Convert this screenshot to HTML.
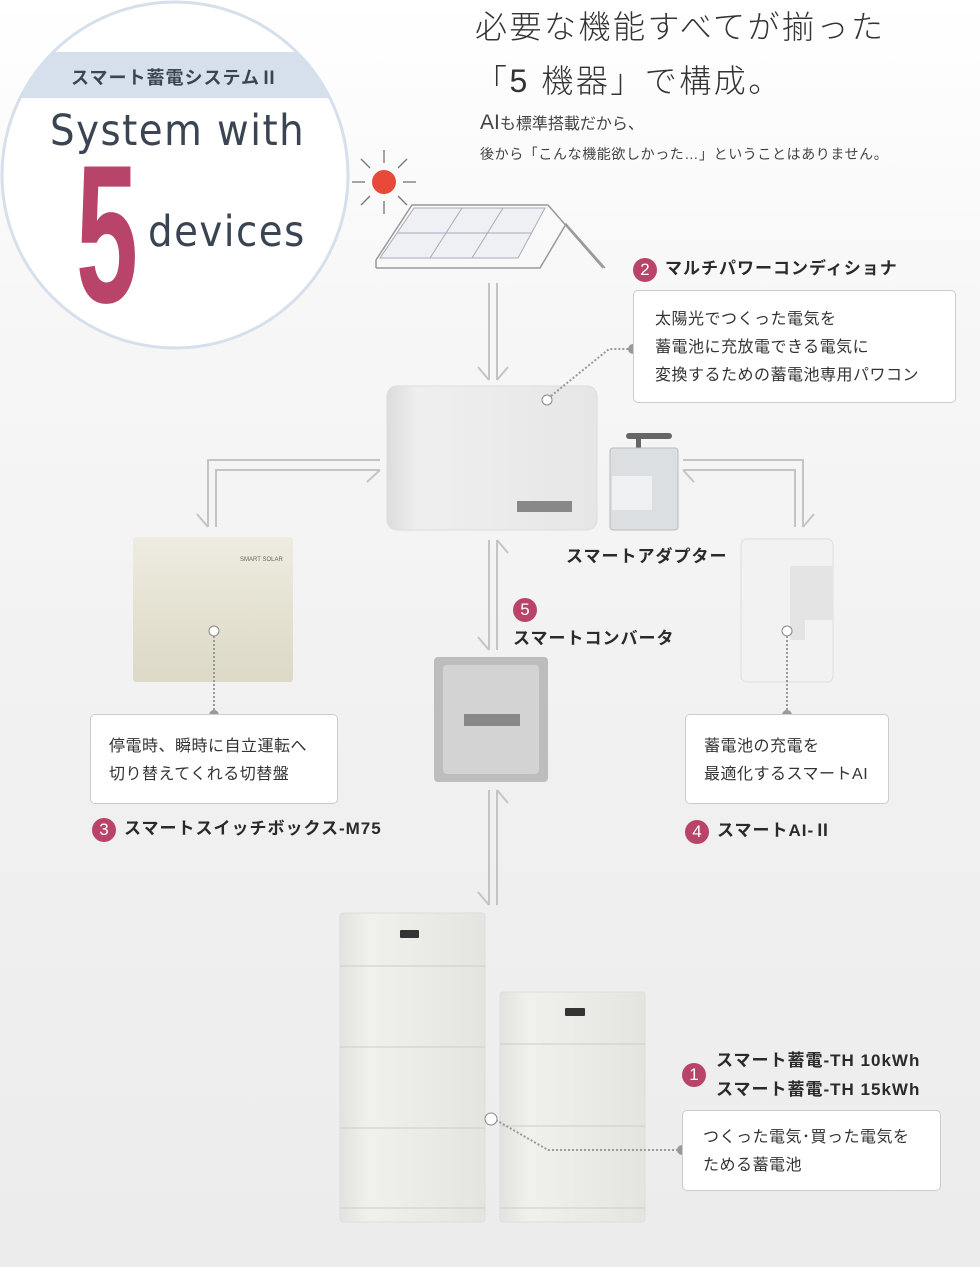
<!DOCTYPE html>
<html><head><meta charset="utf-8"><style>
body{margin:0;width:980px;height:1267px;overflow:hidden;background:linear-gradient(#fff 0,#f7f7f7 300px,#f0f0f0 800px,#ececec 1267px);font-family:"Liberation Sans","Noto Sans CJK JP",sans-serif;color:#333;position:relative}
.a{position:absolute}
.box{position:absolute;background:#fff;border:1px solid #ccc;border-radius:5px;box-sizing:border-box;font-size:16px;line-height:28px;color:#333;letter-spacing:.5px}
.lbl{position:absolute;font-size:17px;font-weight:bold;color:#2a2a2a;white-space:nowrap;letter-spacing:1px}
.num{display:inline-block;width:24px;height:24px;border-radius:50%;background:#b8446a;color:#fff;text-align:center;line-height:24px;font-weight:normal;font-size:17px;margin-right:8px;vertical-align:middle;letter-spacing:0}
</style></head><body>
<svg class="a" style="left:0;top:0" width="980" height="1267">
<defs><clipPath id="cc"><circle cx="175" cy="175" r="172"/></clipPath>
<linearGradient id="dev" x1="0" x2="1"><stop offset="0" stop-color="#dcdcdc"/><stop offset=".15" stop-color="#efefef"/><stop offset="1" stop-color="#e6e6e6"/></linearGradient>
<linearGradient id="bat" x1="0" x2="1"><stop offset="0" stop-color="#e2e2de"/><stop offset=".2" stop-color="#f0f0ec"/><stop offset="1" stop-color="#e4e4e0"/></linearGradient>
<linearGradient id="beige" x1="0" y1="0" x2="0" y2="1"><stop offset="0" stop-color="#eeece2"/><stop offset=".5" stop-color="#e5e2d2"/><stop offset="1" stop-color="#dcd9c8"/></linearGradient>
</defs>
<circle cx="175" cy="175" r="173" fill="#fff" stroke="#d6e0ec" stroke-width="3"/>
<rect x="0" y="52" width="360" height="46" fill="#d6e0ec" clip-path="url(#cc)"/>
<text x="76" y="302" font-size="197" font-weight="bold" fill="#b8446a" textLength="62" lengthAdjust="spacingAndGlyphs" font-family="Liberation Sans Narrow, Liberation Sans, sans-serif">5</text>
<circle cx="384" cy="182" r="12" fill="#e84a3a"/>
<g stroke="#777" stroke-width="1.3">
<line x1="384" y1="150" x2="384" y2="163"/><line x1="384" y1="201" x2="384" y2="214"/>
<line x1="352" y1="182" x2="365" y2="182"/><line x1="403" y1="182" x2="416" y2="182"/>
<line x1="361" y1="159" x2="370" y2="168"/><line x1="398" y1="196" x2="407" y2="205"/>
<line x1="407" y1="159" x2="398" y2="168"/><line x1="370" y1="196" x2="361" y2="205"/></g>
<g stroke="#999" stroke-width="1.5" fill="none">
<polyline points="376,260 412,205 548,205 603,268"/><polyline points="376,268 540,268 566,224 605,268"/>
<line x1="376" y1="260" x2="376" y2="268"/></g>
<polygon points="380,258 414,208 545,208 518,258" fill="#eef0f4" stroke="#aab" stroke-width="1"/>
<g stroke="#aab" fill="none"><line x1="397" y1="233" x2="531" y2="233"/><line x1="462" y1="208" x2="430" y2="258"/><line x1="503" y1="208" x2="472" y2="258"/></g>
<g stroke="#c4c4c4" stroke-width="2" fill="none">
<line x1="489" y1="283" x2="489" y2="380"/><line x1="497" y1="283" x2="497" y2="380"/><polyline points="478,367 489,380"/><polyline points="508,367 497,380"/>
<line x1="489" y1="540" x2="489" y2="650"/><line x1="497" y1="540" x2="497" y2="650"/><polyline points="508,553 497,540"/><polyline points="478,637 489,650"/>
<line x1="489" y1="790" x2="489" y2="905"/><line x1="497" y1="790" x2="497" y2="905"/><polyline points="508,803 497,790"/><polyline points="478,892 489,905"/>
<polyline points="380,460 208,460 208,527"/><polyline points="380,470 216,470 216,527"/><polyline points="197,514 208,527"/><polyline points="367,482 380,470"/>
<polyline points="683,460 803,460 803,527"/><polyline points="683,470 795,470 795,527"/><polyline points="814,514 803,527"/><polyline points="694,482 683,470"/>
</g>
<rect x="387" y="386" width="210" height="144" rx="10" fill="url(#dev)" stroke="#ddd"/>
<rect x="517" y="501" width="55" height="11" fill="#888"/>
<circle cx="547" cy="400" r="5" fill="#fff" stroke="#888"/>
<rect x="636" y="433" width="5" height="25" fill="#666"/><rect x="626" y="433" width="46" height="6" rx="3" fill="#666"/>
<rect x="610" y="448" width="68" height="82" rx="3" fill="#dcdfe2" stroke="#bbb"/>
<rect x="612" y="476" width="40" height="34" fill="#eef0f2"/>
<rect x="133" y="537" width="160" height="145" rx="3" fill="url(#beige)"/>
<text x="240" y="561" font-size="6" fill="#666">SMART SOLAR</text>
<circle cx="214" cy="631" r="5" fill="#fff" stroke="#888"/>
<rect x="741" y="539" width="92" height="143" rx="6" fill="#f2f2f2" stroke="#ddd"/>
<path d="M790 566 H833 V620 H805 V640 H790 Z" fill="#e4e4e4"/>
<circle cx="787" cy="631" r="5" fill="#fff" stroke="#888"/>
<rect x="434" y="657" width="114" height="125" rx="4" fill="#bdbdbd"/>
<rect x="443" y="665" width="96" height="109" rx="4" fill="#d3d3d3"/>
<rect x="464" y="714" width="56" height="12" fill="#888"/>
<rect x="340" y="913" width="145" height="309" rx="3" fill="url(#bat)" stroke="#ddd"/>
<g stroke="#ccc"><line x1="340" y1="966" x2="485" y2="966"/><line x1="340" y1="1047" x2="485" y2="1047"/><line x1="340" y1="1128" x2="485" y2="1128"/><line x1="340" y1="1208" x2="485" y2="1208"/></g>
<rect x="400" y="930" width="19" height="8" rx="1" fill="#333"/>
<rect x="500" y="992" width="145" height="230" rx="3" fill="url(#bat)" stroke="#ddd"/>
<g stroke="#ccc"><line x1="500" y1="1044" x2="645" y2="1044"/><line x1="500" y1="1126" x2="645" y2="1126"/><line x1="500" y1="1208" x2="645" y2="1208"/></g>
<rect x="565" y="1008" width="20" height="8" rx="1" fill="#333"/>
<g stroke="#999" stroke-width="2" stroke-dasharray="2,2" fill="none">
<polyline points="551,396 609,349 633,349"/><line x1="214" y1="636" x2="214" y2="714"/><line x1="787" y1="636" x2="787" y2="714"/>
<polyline points="496,1120 548,1150 682,1150"/></g>
<g fill="#999"><circle cx="633" cy="349" r="5"/><circle cx="214" cy="715" r="5"/><circle cx="787" cy="715" r="5"/><circle cx="682" cy="1150" r="5"/></g>
<circle cx="491" cy="1119" r="6" fill="#fff" stroke="#888"/>
</svg>
<div class="a" style="left:0;width:350px;top:64px;text-align:center;font-size:18px;font-weight:bold;color:#3a4452;letter-spacing:1px">スマート蓄電システムⅡ</div>
<div class="a" style="left:50px;top:106px;font-size:43px;color:#3a4452;letter-spacing:1.5px;font-family:'DejaVu Sans Condensed','Liberation Sans',sans-serif">System with</div>
<div class="a" style="left:148px;top:207px;font-size:43px;color:#3a4452;letter-spacing:1.5px;font-family:'DejaVu Sans Condensed','Liberation Sans',sans-serif">devices</div>
<div class="a" style="left:475px;top:0px;font-size:32px;line-height:54px;color:#333;letter-spacing:2.5px;font-weight:300">必要な機能すべてが揃った<br>「5 機器」で構成。</div>
<div class="a" style="left:480px;top:110px;font-size:16px;color:#444"><span style="font-size:21px">AI</span>も標準搭載だから、</div>
<div class="a" style="left:480px;top:144px;font-size:14px;color:#444;letter-spacing:.6px">後から「こんな機能欲しかった…」ということはありません。</div>
<div class="lbl" style="left:633px;top:254px"><span class="num">2</span>マルチパワーコンディショナ</div>
<div class="box" style="left:633px;top:290px;width:323px;height:113px;padding:15px 0 0 21px">太陽光でつくった電気を<br>蓄電池に充放電できる電気に<br>変換するための蓄電池専用パワコン</div>
<div class="lbl" style="left:566px;top:542px">スマートアダプター</div>
<div class="lbl" style="left:513px;top:594px;line-height:30px"><span class="num" style="margin:0">5</span><br>スマートコンバータ</div>
<div class="box" style="left:90px;top:714px;width:248px;height:90px;padding:18px 0 0 18px">停電時、瞬時に自立運転へ<br>切り替えてくれる切替盤</div>
<div class="lbl" style="left:92px;top:814px"><span class="num">3</span>スマートスイッチボックス-M75</div>
<div class="box" style="left:685px;top:714px;width:204px;height:90px;padding:18px 0 0 18px">蓄電池の充電を<br>最適化するスマートAI</div>
<div class="lbl" style="left:685px;top:816px"><span class="num">4</span>スマートAI-Ⅱ</div>
<div class="a" style="left:682px;top:1063px"><span class="num" style="font-size:17px">1</span></div>
<div class="lbl" style="left:716px;top:1046px;line-height:29px">スマート蓄電-TH 10kWh<br>スマート蓄電-TH 15kWh</div>
<div class="box" style="left:682px;top:1110px;width:259px;height:81px;padding:13px 0 0 20px">つくった電気･買った電気を<br>ためる蓄電池</div>
</body></html>
